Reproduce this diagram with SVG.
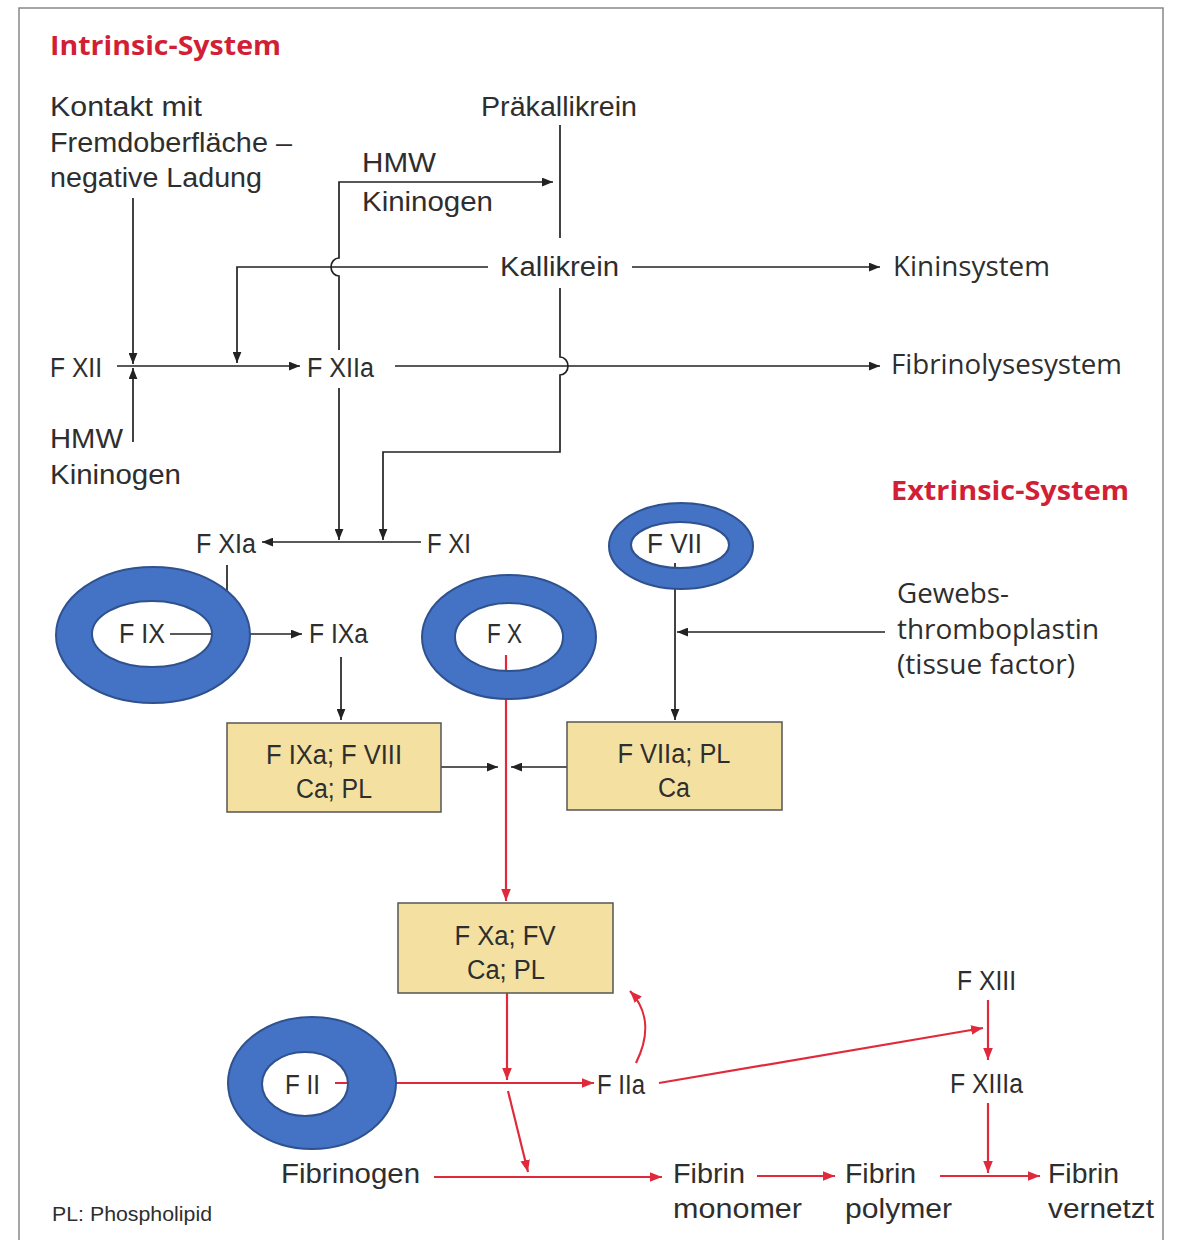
<svg xmlns="http://www.w3.org/2000/svg" width="1179" height="1240" viewBox="0 0 1179 1240">
<defs>
<marker id="ab" viewBox="0 0 10 8" refX="10" refY="4" markerWidth="11" markerHeight="9" markerUnits="userSpaceOnUse" orient="auto"><path d="M0,0 L10,4 L0,8 z" fill="#222"/></marker>
<marker id="ar" viewBox="0 0 10 8" refX="10" refY="4" markerWidth="12" markerHeight="10" markerUnits="userSpaceOnUse" orient="auto"><path d="M0,0 L10,4 L0,8 z" fill="#e02a3c"/></marker>
</defs>
<style>
text{font-family:"Liberation Sans",Arial,sans-serif;font-size:27px;fill:#2e2e2e}
.os{font-family:"Open Sans","Liberation Sans",sans-serif;font-size:27px}
.title{font-family:"Open Sans","Liberation Sans",sans-serif;font-weight:bold;fill:#d31f36;font-size:27px}
.c{text-anchor:middle}
.bk{fill:none;stroke:#222;stroke-width:1.7}
.rd{fill:none;stroke:#e02a3c;stroke-width:2.2}
.box{fill:#f4e1a1;stroke:#555;stroke-width:1.5}
.ring{fill:#4472c4;fill-rule:evenodd;stroke:#2f528f;stroke-width:2}
.frame{fill:none;stroke:#888;stroke-width:1.5}
</style>
<rect width="1179" height="1240" fill="#ffffff"/>
<path class="frame" d="M19,1240 V8 H1163 V1240"/>

<g id="connectors">
<path class="bk" d="M133,198 V364" marker-end="url(#ab)"/>
<path class="bk" d="M133,442 V368" marker-end="url(#ab)"/>
<path class="bk" d="M117,366 H300" marker-end="url(#ab)"/>
<path class="bk" d="M488,267 H237 V363" marker-end="url(#ab)"/>
<path class="bk" d="M339,350 V276 A8,9 0 0 1 339,258 V182 H553" marker-end="url(#ab)"/>
<path class="bk" d="M560,125 V238"/>
<path class="bk" d="M560,288 V357 A8,9 0 0 1 560,375 V452 H383 V540" marker-end="url(#ab)"/>
<path class="bk" d="M339,388 V540" marker-end="url(#ab)"/>
<path class="bk" d="M632,267 H880" marker-end="url(#ab)"/>
<path class="bk" d="M395,366 H880" marker-end="url(#ab)"/>
<path class="bk" d="M421,542 H262" marker-end="url(#ab)"/>
<path class="bk" d="M227,565 V634"/>
<path class="bk" d="M170,634 H302" marker-end="url(#ab)"/>
<path class="bk" d="M341,657 V720" marker-end="url(#ab)"/>
<path class="bk" d="M441,767 H498" marker-end="url(#ab)"/>
<path class="bk" d="M567,767 H511" marker-end="url(#ab)"/>
<path class="bk" d="M675,563 V720" marker-end="url(#ab)"/>
<path class="bk" d="M885,632 H677" marker-end="url(#ab)"/>

<path class="rd" d="M506,655 V901" marker-end="url(#ar)"/>
<path class="rd" d="M507,993 V1080" marker-end="url(#ar)"/>
<path class="rd" d="M335,1083 H594" marker-end="url(#ar)"/>
<path class="rd" d="M508,1091 L528,1172" marker-end="url(#ar)"/>
<path class="rd" d="M434,1177 H662" marker-end="url(#ar)"/>
<path class="rd" d="M636,1063 C650,1035 648,1010 630,991" marker-end="url(#ar)"/>
<path class="rd" d="M659,1083 L983,1028" marker-end="url(#ar)"/>
<path class="rd" d="M988,1000 V1060" marker-end="url(#ar)"/>
<path class="rd" d="M988,1103 V1173" marker-end="url(#ar)"/>
<path class="rd" d="M757,1176 H835" marker-end="url(#ar)"/>
<path class="rd" d="M940,1176 H1040" marker-end="url(#ar)"/>
</g>

<g id="titles">
<text class="title" x="50" y="55" textLength="231" lengthAdjust="spacingAndGlyphs">Intrinsic-System</text>
<text class="title" x="891" y="500" textLength="238" lengthAdjust="spacingAndGlyphs">Extrinsic-System</text>
</g>

<g id="kontakt"><text x="50" y="116" textLength="152" lengthAdjust="spacingAndGlyphs">Kontakt mit</text><text x="50" y="152" textLength="242" lengthAdjust="spacingAndGlyphs">Fremdoberfläche –</text><text x="50" y="187" textLength="212" lengthAdjust="spacingAndGlyphs">negative Ladung</text></g>
<g id="praekallikrein"><text x="481" y="116" textLength="156" lengthAdjust="spacingAndGlyphs">Präkallikrein</text></g>
<g id="hmw1"><text x="362" y="172" textLength="74" lengthAdjust="spacingAndGlyphs">HMW</text><text x="362" y="211" textLength="131" lengthAdjust="spacingAndGlyphs">Kininogen</text></g>
<g id="kallikrein"><text x="500" y="276" textLength="119" lengthAdjust="spacingAndGlyphs">Kallikrein</text></g>
<g id="kininsystem"><text class="os" x="893" y="276" textLength="157" lengthAdjust="spacingAndGlyphs">Kininsystem</text></g>
<g id="fxii"><text x="50" y="377" textLength="52" lengthAdjust="spacingAndGlyphs">F XII</text></g>
<g id="fxiia"><text x="307" y="377" textLength="67" lengthAdjust="spacingAndGlyphs">F XIIa</text></g>
<g id="fibrinolyse"><text class="os" x="891" y="374" textLength="231" lengthAdjust="spacingAndGlyphs">Fibrinolysesystem</text></g>
<g id="hmw2"><text x="50" y="448" textLength="73" lengthAdjust="spacingAndGlyphs">HMW</text><text x="50" y="484" textLength="131" lengthAdjust="spacingAndGlyphs">Kininogen</text></g>
<g id="fxia"><text x="196" y="553" textLength="60" lengthAdjust="spacingAndGlyphs">F XIa</text></g>
<g id="fxi"><text x="427" y="553" textLength="44" lengthAdjust="spacingAndGlyphs">F XI</text></g>
<g id="gewebs"><text class="os" x="897" y="603" textLength="112" lengthAdjust="spacingAndGlyphs">Gewebs-</text><text class="os" x="897" y="639" textLength="202" lengthAdjust="spacingAndGlyphs">thromboplastin</text><text class="os" x="897" y="674" textLength="178" lengthAdjust="spacingAndGlyphs">(tissue factor)</text></g>
<g id="fix"><text x="119" y="643" textLength="46" lengthAdjust="spacingAndGlyphs">F IX</text></g>
<g id="fixa"><text x="309" y="643" textLength="59" lengthAdjust="spacingAndGlyphs">F IXa</text></g>
<g id="fx"><text x="487" y="643" textLength="35" lengthAdjust="spacingAndGlyphs">F X</text></g>
<g id="fvii"><text x="647" y="553" textLength="55" lengthAdjust="spacingAndGlyphs">F VII</text></g>

<g id="box-ixa"><rect class="box" x="227" y="723" width="214" height="89"/><text class="c" x="334" y="764" textLength="136" lengthAdjust="spacingAndGlyphs">F IXa; F VIII</text><text class="c" x="334" y="798" textLength="76" lengthAdjust="spacingAndGlyphs">Ca; PL</text></g>
<g id="box-viia"><rect class="box" x="567" y="722" width="215" height="88"/><text class="c" x="674" y="763" textLength="113" lengthAdjust="spacingAndGlyphs">F VIIa; PL</text><text class="c" x="674" y="797" textLength="32" lengthAdjust="spacingAndGlyphs">Ca</text></g>
<g id="box-xa"><rect class="box" x="398" y="903" width="215" height="90"/><text class="c" x="505" y="945" textLength="101" lengthAdjust="spacingAndGlyphs">F Xa; FV</text><text class="c" x="506" y="979" textLength="78" lengthAdjust="spacingAndGlyphs">Ca; PL</text></g>

<g id="fxiii"><text x="957" y="990" textLength="59" lengthAdjust="spacingAndGlyphs">F XIII</text></g>
<g id="fii"><text x="285" y="1094" textLength="35" lengthAdjust="spacingAndGlyphs">F II</text></g>
<g id="fiia"><text x="597" y="1094" textLength="48" lengthAdjust="spacingAndGlyphs">F IIa</text></g>
<g id="fxiiia"><text x="950" y="1093" textLength="73" lengthAdjust="spacingAndGlyphs">F XIIIa</text></g>
<g id="fibrinogen"><text x="281" y="1183" textLength="139" lengthAdjust="spacingAndGlyphs">Fibrinogen</text></g>
<g id="monomer"><text x="673" y="1183" textLength="72" lengthAdjust="spacingAndGlyphs">Fibrin</text><text x="673" y="1218" textLength="129" lengthAdjust="spacingAndGlyphs">monomer</text></g>
<g id="polymer"><text x="845" y="1183" textLength="71" lengthAdjust="spacingAndGlyphs">Fibrin</text><text x="845" y="1218" textLength="107" lengthAdjust="spacingAndGlyphs">polymer</text></g>
<g id="vernetzt"><text x="1048" y="1183" textLength="71" lengthAdjust="spacingAndGlyphs">Fibrin</text><text x="1048" y="1218" textLength="106" lengthAdjust="spacingAndGlyphs">vernetzt</text></g>
<g id="legend"><text x="52" y="1221" style="font-size:21px" textLength="160" lengthAdjust="spacingAndGlyphs">PL: Phospholipid</text></g>

<g id="rings">
<path class="ring" d="M56,635 a97,68 0 1 0 194,0 a97,68 0 1 0 -194,0 Z M92,634 a60,33 0 1 1 120,0 a60,33 0 1 1 -120,0 Z"/>
<path class="ring" d="M422,637 a87,62 0 1 0 174,0 a87,62 0 1 0 -174,0 Z M455,637 a54,34 0 1 1 108,0 a54,34 0 1 1 -108,0 Z"/>
<path class="ring" d="M609,546 a72,43 0 1 0 144,0 a72,43 0 1 0 -144,0 Z M631,545 a49,23 0 1 1 98,0 a49,23 0 1 1 -98,0 Z"/>
<path class="ring" d="M228,1083 a84,66 0 1 0 168,0 a84,66 0 1 0 -168,0 Z M262,1084 a43,32 0 1 1 86,0 a43,32 0 1 1 -86,0 Z"/>
</g>
</svg>
